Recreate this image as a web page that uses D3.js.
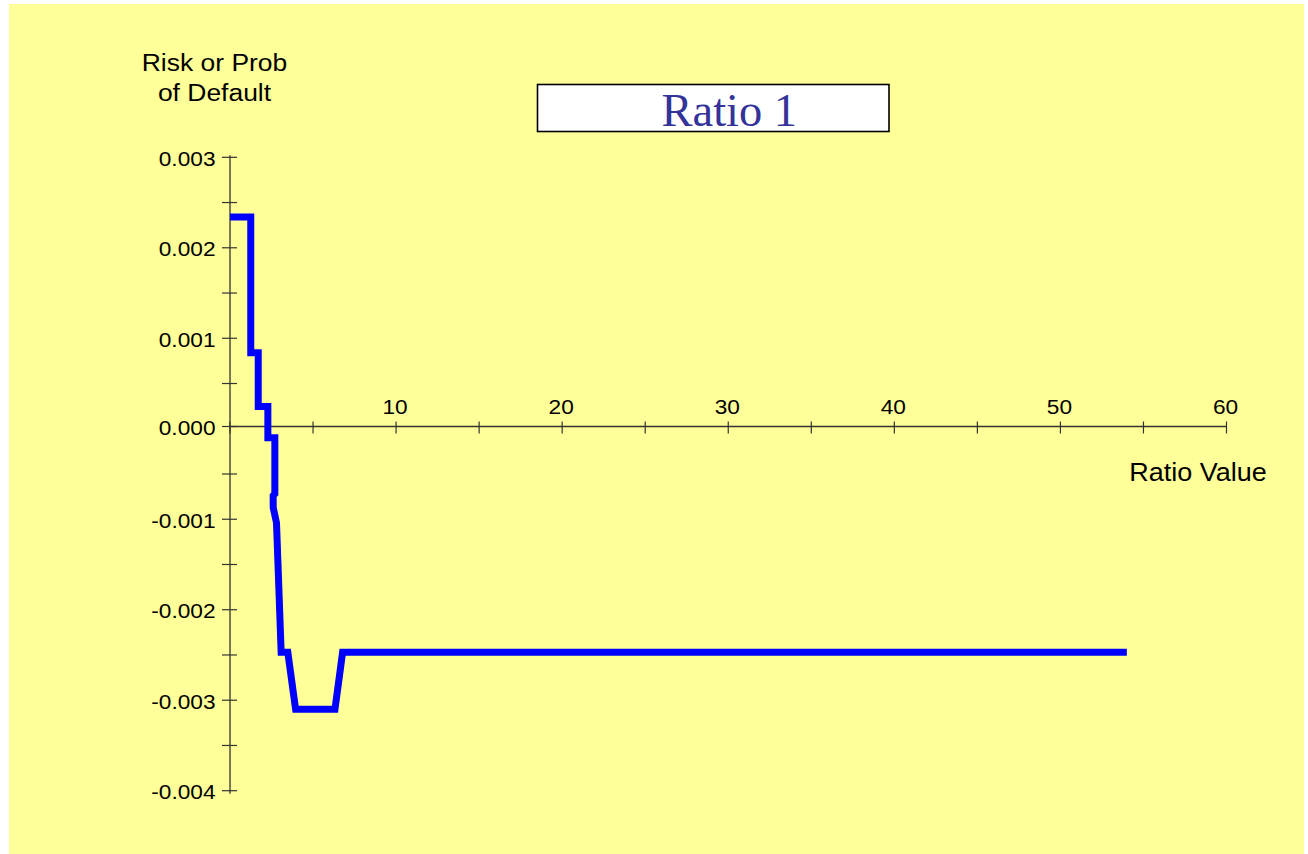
<!DOCTYPE html>
<html>
<head>
<meta charset="utf-8">
<script src="https://cdn.jsdelivr.net/npm/d3@7"></script>
<style>
  html, body { margin: 0; padding: 0; background: #ffffff; }
  svg { display: block; }
  text.sans { font-family: Arial, "Liberation Sans", Helvetica, sans-serif; fill: #000; }
  text.serif { font-family: "Liberation Serif", "Times New Roman", "DejaVu Serif", serif; fill: #333399; }
</style>
</head>
<body>
<script>
// ---- data ----
const ratioX = [0, 1.25, 1.25, 1.7, 1.7, 2.28, 2.28, 2.7, 2.7, 2.6, 2.6, 2.8, 3.08, 3.48, 3.95, 6.32, 6.78, 54];
const riskY  = [0.00234, 0.00234, 0.00084, 0.00084, 0.000245, 0.000245, -0.0001, -0.0001, -0.00072, -0.00074, -0.00087, -0.00104, -0.00247, -0.00247, -0.0031, -0.0031, -0.00247, -0.00247];
const yTickValues = [0.003, 0.002, 0.001, 0.000, -0.001, -0.002, -0.003, -0.004];
const yTickLabels = ["0.003", "0.002", "0.001", "0.000", "-0.001", "-0.002", "-0.003", "-0.004"];
const yMinorTicks = [0.0025, 0.0015, 0.0005, -0.0005, -0.0015, -0.0025, -0.0035];
const xTickValues = [10, 20, 30, 40, 50, 60];
const xTickLabels = ["10", "20", "30", "40", "50", "60"];
const xMinorTicks = [0, 5, 15, 25, 35, 45, 55];
const chartTitle = "Ratio 1";
const yTitleLines = ["Risk or Prob", "of Default"];
const xTitle = "Ratio Value";

// ---- drawing ----
const W = 1308, H = 854;
const svg = d3.select("body").append("svg").attr("width", W).attr("height", H);

svg.append("rect").attr("x", 9).attr("y", 4).attr("width", 1295).attr("height", 850).attr("fill", "#FFFF99");

const x = d3.scaleLinear().domain([0, 60]).range([230, 1226.5]);
const y = d3.scaleLinear().domain([-0.004, 0.003]).range([790.7, 157.3]);
const y0 = 426.5;
const sx = 1.08; // horizontal stretch of text

function stretchedText(g, tx, ty, str, size, anchor) {
  return g.append("text").attr("class", "sans")
    .attr("transform", `translate(${tx},${ty}) scale(${sx},1)`)
    .attr("text-anchor", anchor)
    .attr("font-size", size)
    .text(str);
}

// Y axis line
svg.append("line").attr("x1", x(0)).attr("x2", x(0)).attr("y1", y(0.003) - 2).attr("y2", y(-0.004) + 3)
  .attr("stroke", "#333").attr("stroke-width", 1.3);
// X axis line
svg.append("line").attr("x1", x(0)).attr("x2", x(60)).attr("y1", y0).attr("y2", y0)
  .attr("stroke", "#333").attr("stroke-width", 1.3);

// Y ticks (major + minor, crossing)
const yAll = yTickValues.concat(yMinorTicks);
svg.selectAll(".ytick").data(yAll).enter().append("line")
  .attr("x1", x(0) - 8).attr("x2", x(0) + 7)
  .attr("y1", d => d === 0 ? y0 : y(d)).attr("y2", d => d === 0 ? y0 : y(d))
  .attr("stroke", "#333").attr("stroke-width", 1.2);

// Y labels
const gy = svg.append("g");
yTickValues.forEach((v, i) => {
  stretchedText(gy, 215.5, (v === 0 ? y0 : y(v)) + 8.5, yTickLabels[i], 21, "end");
});

// X ticks
const xAll = xTickValues.concat(xMinorTicks);
svg.selectAll(".xtick").data(xAll).enter().append("line")
  .attr("x1", d => x(d)).attr("x2", d => x(d))
  .attr("y1", y0 - 5).attr("y2", y0 + 7)
  .attr("stroke", "#333").attr("stroke-width", 1.2);

// X labels
const gx = svg.append("g");
xTickValues.forEach((v, i) => {
  stretchedText(gx, x(v) - 1, 414, xTickLabels[i], 21, "middle");
});

// Axis titles
const gt = svg.append("g");
yTitleLines.forEach((s, i) => stretchedText(gt, 214.5, 71 + i * 30, s, 24.5, "middle"));
stretchedText(gt, 1198, 481, xTitle, 25, "middle");

// Title box
svg.append("rect").attr("x", 537.5).attr("y", 84.5).attr("width", 351.5).attr("height", 47)
  .attr("fill", "#ffffff").attr("stroke", "#000").attr("stroke-width", 1.6);
svg.append("text").attr("class", "serif").attr("x", 661.5).attr("y", 125.5)
  .attr("font-size", 46.5).text(chartTitle);

// Line
const pts = ratioX.map((v, i) => [v, riskY[i]]);
const line = d3.line().x(d => x(d[0])).y(d => y(d[1]));
svg.append("path").datum(pts).attr("d", line)
  .attr("fill", "none").attr("stroke", "#0000FF").attr("stroke-width", 7)
  .attr("stroke-linejoin", "miter").attr("stroke-linecap", "butt");
</script>
</body>
</html>
